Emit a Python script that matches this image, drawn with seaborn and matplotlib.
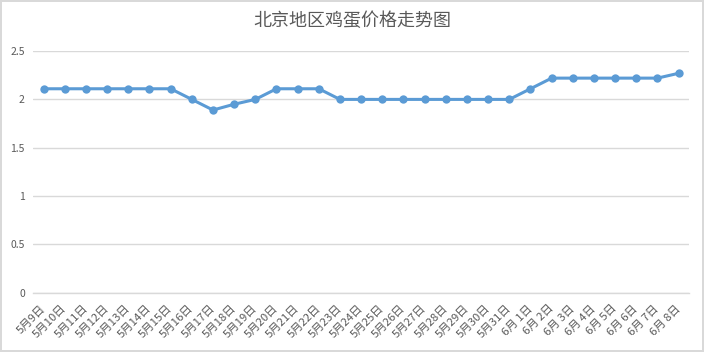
import matplotlib
matplotlib.use("Agg")
import matplotlib.pyplot as plt
import seaborn as sns
import pandas as pd

# Data
dates = ["5月9日", "5月10日", "5月11日", "5月12日", "5月13日", "5月14日", "5月15日",
         "5月16日", "5月17日", "5月18日", "5月19日", "5月20日", "5月21日", "5月22日",
         "5月23日", "5月24日", "5月25日", "5月26日", "5月27日", "5月28日", "5月29日",
         "5月30日", "5月31日", "6月 1日", "6月 2日", "6月 3日", "6月 4日", "6月 5日",
         "6月 6日", "6月 7日", "6月 8日"]
prices = [2.11, 2.11, 2.11, 2.11, 2.11, 2.11, 2.11,
          2.00, 1.89, 1.95, 2.00, 2.11, 2.11, 2.11,
          2.00, 2.00, 2.00, 2.00, 2.00, 2.00, 2.00,
          2.00, 2.00, 2.11, 2.22, 2.22, 2.22, 2.22,
          2.22, 2.22, 2.27]
y_ticks = [0, 0.5, 1, 1.5, 2, 2.5]

df = pd.DataFrame({"idx": range(len(dates)), "date": dates, "price": prices})

sns.set_style("white")
plt.rcParams["font.family"] = ["Noto Sans CJK SC", "DejaVu Sans"]

text_color = "#595959"
grid_color = "#D9D9D9"
line_color = "#5B9BD5"

fig = plt.figure(figsize=(7.04, 3.52), dpi=100)
fig.patch.set_edgecolor(grid_color)
fig.patch.set_linewidth(1.5)
ax = fig.add_axes([0.047, 0.168, 0.932, 0.687])

sns.lineplot(data=df, x="idx", y="price", color=line_color, linewidth=2.2,
             marker="o", markersize=6, markeredgewidth=0, ax=ax)

ax.set_xlim(-0.5, len(dates) - 0.5)
ax.set_ylim(0, 2.5)
ax.set_yticks(y_ticks)
ax.set_yticklabels([f"{t:g}" for t in y_ticks])
ax.yaxis.grid(True, color=grid_color, linewidth=1)
ax.set_axisbelow(True)

ax.set_xticks(range(len(dates)))
ax.set_xticklabels(dates, rotation=45, ha="right", va="center", rotation_mode="anchor")
ax.set_xticks([i - 0.5 for i in range(len(dates) + 1)], minor=True)
ax.tick_params(axis="x", which="major", length=0, pad=10, labelsize=8.2, labelcolor=text_color)
ax.tick_params(axis="x", which="minor", length=5, color="#BFBFBF", width=1)
ax.tick_params(axis="y", length=0, pad=6, labelsize=7.5, labelcolor=text_color)

for s in ["top", "right", "left"]:
    ax.spines[s].set_visible(False)
ax.spines["bottom"].set_color(grid_color)
ax.spines["bottom"].set_linewidth(1)

ax.set_xlabel("")
ax.set_ylabel("")
fig.text(0.5, 0.94, "北京地区鸡蛋价格走势图", ha="center", va="center",
         fontsize=13, color=text_color)

fig.savefig("out.png", dpi=100, edgecolor=fig.get_edgecolor())
